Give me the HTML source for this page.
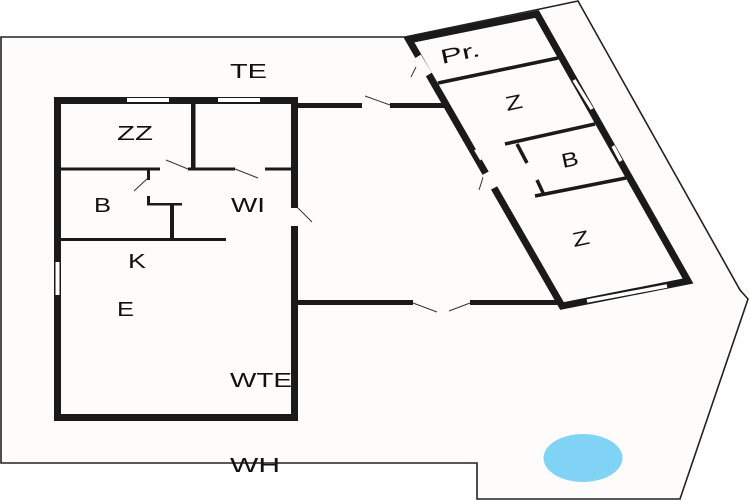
<!DOCTYPE html>
<html><head><meta charset="utf-8"><style>
html,body{margin:0;padding:0;background:#fff;}
svg{display:block;}
text{font-family:"Liberation Sans",sans-serif;font-size:20px;fill:#111;}
</style></head><body>
<svg width="750" height="500" viewBox="0 0 750 500" xmlns="http://www.w3.org/2000/svg">
<rect width="750" height="500" fill="#fff"/>
<polygon points="1,37 405,37 540,9 578,1 740,290 748,299 680,499 477,499 477,463 1,463" fill="#fdfcfa" stroke="#222" stroke-width="1.6"/>
<rect x="57.5" y="100.5" width="237" height="317" fill="#fdfcfa" stroke="#1a1a1a" stroke-width="7"/>
<rect x="127" y="98" width="42" height="4" fill="#fff"/>
<rect x="218" y="98" width="42" height="4" fill="#fff"/>
<rect x="55.5" y="262" width="4" height="33" fill="#fff"/>
<rect x="290" y="208" width="9" height="18" fill="#fdfcfa"/>
<line x1="298" y1="208" x2="312" y2="222" stroke="#333" stroke-width="1"/>
<g fill="#1a1a1a">
<rect x="191" y="104" width="4.5" height="66"/>
<rect x="61" y="167.5" width="99" height="3"/>
<rect x="188" y="167.5" width="47" height="3"/>
<rect x="265" y="167.5" width="26" height="3"/>
<rect x="147" y="170" width="3" height="10"/>
<rect x="147" y="196" width="3" height="9"/>
<rect x="147" y="203" width="35" height="2.5"/>
<rect x="170" y="204" width="4" height="36"/>
<rect x="61" y="238" width="165" height="3"/>
</g>
<g stroke="#333" stroke-width="1" fill="none">
<line x1="166" y1="160" x2="188" y2="169"/>
<line x1="235" y1="169" x2="258" y2="178"/>
<line x1="148" y1="178" x2="134" y2="191"/>
<line x1="416" y1="67" x2="411" y2="77"/>
<line x1="365" y1="96" x2="390" y2="105"/>
<line x1="478" y1="154" x2="494" y2="144"/>
<line x1="486" y1="168" x2="479" y2="190"/>
<line x1="507" y1="196" x2="533" y2="206"/>
<line x1="527" y1="163" x2="547" y2="175"/>
<line x1="413" y1="303" x2="437" y2="312"/>
<line x1="470" y1="303" x2="449" y2="311"/>
</g>
<rect x="298" y="103" width="64" height="5" fill="#1a1a1a"/>
<rect x="390" y="103" width="55" height="5" fill="#1a1a1a"/>
<rect x="298" y="300" width="115" height="5" fill="#1a1a1a"/>
<rect x="470" y="300" width="88" height="5" fill="#1a1a1a"/>
<polygon points="409,40 537,14 688,281 562,306" fill="#fdfcfa" stroke="#1a1a1a" stroke-width="7" stroke-linejoin="miter"/>
<g stroke="#1a1a1a" stroke-width="3.5">
<line x1="438" y1="83" x2="558" y2="58"/>
<line x1="505" y1="144" x2="595" y2="124"/>
<line x1="535" y1="196" x2="626" y2="178"/>
<line x1="517" y1="144" x2="527" y2="163"/>
<line x1="537" y1="180" x2="544" y2="195"/>
</g>
<g stroke="#fdfcfa" stroke-width="9">
<line x1="417" y1="57" x2="428" y2="75"/>
<line x1="478" y1="148" x2="484" y2="158"/>
<line x1="486" y1="173" x2="494" y2="188"/>
</g>
<g stroke="#fff" stroke-width="3.5">
<line x1="574" y1="80" x2="592" y2="109"/>
<line x1="613" y1="146" x2="621" y2="161"/>
<line x1="587" y1="301" x2="667" y2="286"/>
</g>
<ellipse cx="583" cy="458" rx="39.5" ry="24" fill="#80d3f5"/>
<g lengthAdjust="spacingAndGlyphs">
<text x="230" y="78" textLength="37" lengthAdjust="spacingAndGlyphs">TE</text>
<text x="117" y="140" textLength="36" lengthAdjust="spacingAndGlyphs">ZZ</text>
<text x="94" y="212" textLength="17" lengthAdjust="spacingAndGlyphs">B</text>
<text x="231" y="212" textLength="34" lengthAdjust="spacingAndGlyphs">WI</text>
<text x="128" y="268" textLength="18" lengthAdjust="spacingAndGlyphs">K</text>
<text x="117" y="316" textLength="17" lengthAdjust="spacingAndGlyphs">E</text>
<text x="230" y="387" textLength="62" lengthAdjust="spacingAndGlyphs">WTE</text>
<text x="230" y="472" textLength="50" lengthAdjust="spacingAndGlyphs">WH</text>
<text transform="translate(442,64) rotate(-12)" textLength="40" lengthAdjust="spacingAndGlyphs">Pr.</text>
<text transform="translate(507,111) rotate(-12)" textLength="17" lengthAdjust="spacingAndGlyphs">Z</text>
<text transform="translate(563,168) rotate(-12)" textLength="17" lengthAdjust="spacingAndGlyphs">B</text>
<text transform="translate(574,247) rotate(-12)" textLength="17" lengthAdjust="spacingAndGlyphs">Z</text>
</g>
</svg>
</body></html>
